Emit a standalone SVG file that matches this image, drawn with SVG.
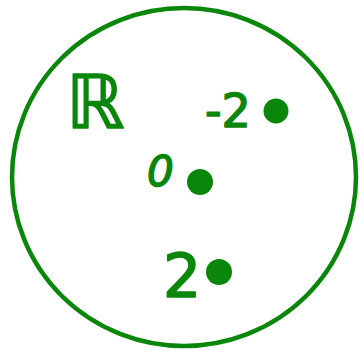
<svg xmlns="http://www.w3.org/2000/svg" width="361" height="354" viewBox="0 0 361 354">
<style>
.lbl{font-family:"DejaVu Sans","Liberation Sans",sans-serif;fill:#0a870a;stroke:#0a870a;stroke-width:1.5;stroke-linejoin:round}
.dot{fill:#0a870a}
</style>
<rect width="361" height="354" fill="#fff"/>
<g id="set"><ellipse cx="184" cy="177" rx="172" ry="169" fill="none" stroke="#0a870a" stroke-width="4.5"/></g>
<g id="label-R"><text class="lbl" x="66" y="128" font-size="74">ℝ</text></g>
<g id="p-neg2"><text class="lbl" x="205" y="127" font-size="46">-2</text><circle class="dot" cx="276" cy="111" r="12.5"/></g>
<g id="p-0"><text class="lbl" x="147" y="186" font-size="42" font-style="italic">0</text><circle class="dot" cx="200" cy="182" r="13"/></g>
<g id="p-2"><text class="lbl" x="163" y="297" font-size="60">2</text><circle class="dot" cx="219" cy="272" r="13"/></g>
<g id="connectors"></g>
</svg>
